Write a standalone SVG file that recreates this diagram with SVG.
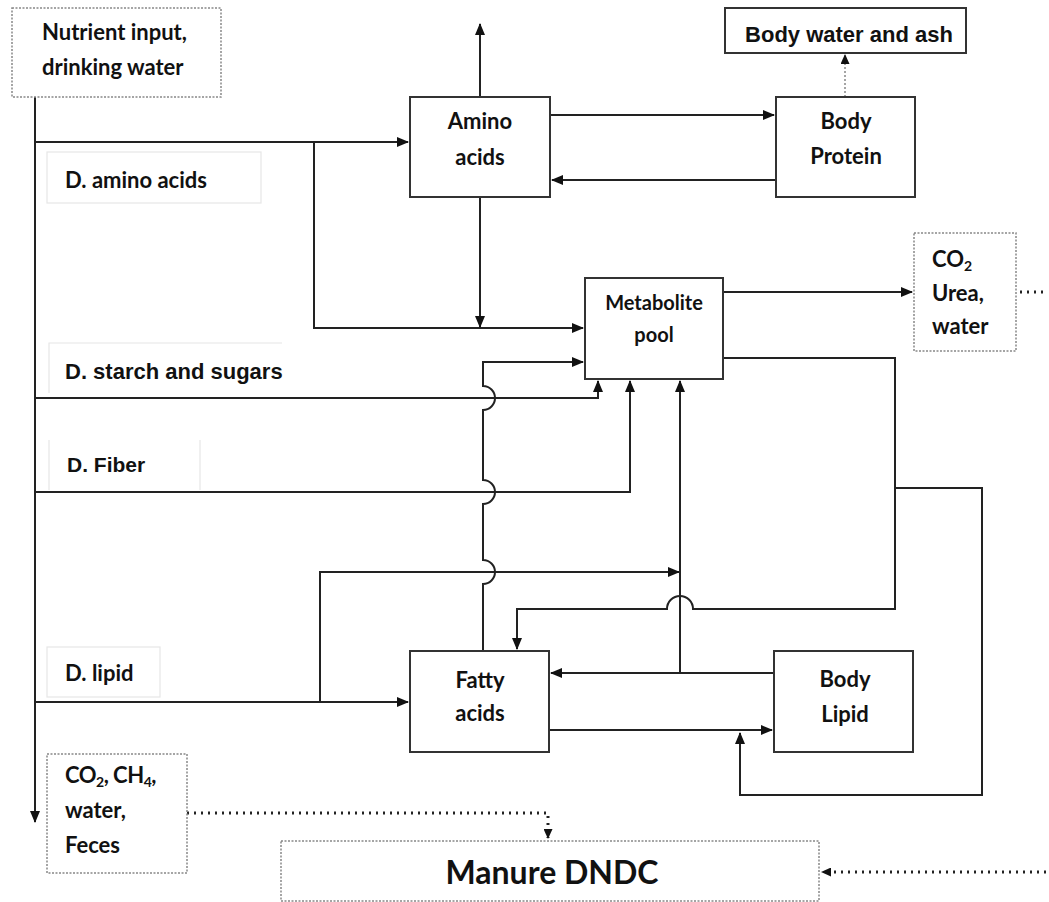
<svg xmlns="http://www.w3.org/2000/svg" width="1049" height="902" viewBox="0 0 1049 902">
<defs>
<marker id="ah" markerWidth="12" markerHeight="10" refX="11" refY="5" orient="auto" markerUnits="userSpaceOnUse">
<path d="M0,0 L12,5 L0,10 Z" fill="#111"/>
</marker>
<marker id="ahs" markerWidth="10" markerHeight="9" refX="9" refY="4.5" orient="auto" markerUnits="userSpaceOnUse">
<path d="M0,0 L10,4.5 L0,9 Z" fill="#111"/>
</marker>
<style>
.c{fill:none;stroke:#222;stroke-width:2}
.d{fill:none;stroke:#222;stroke-width:3;stroke-dasharray:2 5}
.dg{fill:none;stroke:#888;stroke-width:1.5;stroke-dasharray:2 2}
.box{fill:#fff;stroke:#333;stroke-width:2}
.dbox{fill:#fff;stroke:#888;stroke-width:1.5;stroke-dasharray:2 1.5}
.lbox{fill:#fff;stroke:#e6e6e6;stroke-width:1.2}
.t{font-family:Lato,"Liberation Sans",sans-serif;font-weight:bold;font-size:22px;fill:#111}
.a{font-family:"Liberation Sans",Arial,sans-serif;font-weight:bold;font-size:22px;fill:#111}
.m{text-anchor:middle}
.sub{font-size:14px}
</style>
</defs>
<rect width="1049" height="902" fill="#fff"/>

<g id="connectors">
<path class="c" d="M35,97 V822" marker-end="url(#ah)"/>
<path class="c" d="M35,142 H408" marker-end="url(#ah)"/>
<path class="c" d="M314,142 V328 H583" marker-end="url(#ah)"/>
<path class="c" d="M480,197 V327" marker-end="url(#ah)"/>
<path class="c" d="M480,97 V24" marker-end="url(#ah)"/>
<path class="c" d="M550,115 H774" marker-end="url(#ah)"/>
<path class="c" d="M776,180 H552" marker-end="url(#ah)"/>
<path class="dg" d="M845,97 V55" marker-end="url(#ahs)"/>
<path class="c" d="M723,292 H912" marker-end="url(#ah)"/>
<path class="d" d="M1020,292 H1046"/>
<path class="c" d="M35,398 H598 V381" marker-end="url(#ah)"/>
<path class="c" d="M35,492 H630 V381" marker-end="url(#ah)"/>
<path class="c" d="M483,651 V584 A12 12 0 0 0 483,560 V504 A12 12 0 0 0 483,480 V410 A12 12 0 0 0 483,386 V362 H583" marker-end="url(#ah)"/>
<path class="c" d="M35,702 H408" marker-end="url(#ah)"/>
<path class="c" d="M320,702 V572 H679" marker-end="url(#ah)"/>
<path class="c" d="M680,673 V381" marker-end="url(#ah)"/>
<path class="c" d="M774,673 H551" marker-end="url(#ah)"/>
<path class="c" d="M549,730 H772" marker-end="url(#ah)"/>
<path class="c" d="M723,358 H895 V609 H693 A13 13 0 0 0 667,609 H517 V649" marker-end="url(#ah)"/>
<path class="c" d="M895,488 H982 V795 H740 V733" marker-end="url(#ah)"/>
<path class="d" d="M187,813 H548 V838" marker-end="url(#ahs)"/>
<path class="d" d="M1046,872 H822" marker-end="url(#ahs)"/>
</g>

<g id="nutrient-input">
<rect class="dbox" x="12" y="8" width="209" height="89"/>
<text class="t" x="42" y="40">Nutrient input,</text>
<text class="t" x="42" y="75">drinking water</text>
</g>
<g id="d-amino-acids">
<rect class="lbox" x="47" y="152" width="214" height="51"/>
<text class="t" x="65" y="188">D. amino acids</text>
</g>
<g id="amino-acids">
<rect class="box" x="410" y="97" width="140" height="100"/>
<text class="t m" x="480" y="129">Amino</text>
<text class="t m" x="480" y="165">acids</text>
</g>
<g id="body-protein">
<rect class="box" x="776" y="97" width="139" height="100"/>
<text class="t m" x="846" y="129">Body</text>
<text class="t m" x="846" y="164">Protein</text>
</g>
<g id="body-water-ash">
<rect class="box" x="725" y="8" width="241" height="45"/>
<text class="a m" x="849" y="42">Body water and ash</text>
</g>
<g id="metabolite-pool">
<rect class="box" x="585" y="278" width="138" height="101"/>
<text class="t m" x="654" y="310" style="font-size:20px">Metabolite</text>
<text class="t m" x="654" y="342" style="font-size:20px">pool</text>
</g>
<g id="co2-urea-water">
<rect class="dbox" x="914" y="233" width="102" height="118"/>
<text class="t" x="932" y="267">CO<tspan class="sub" dy="4">2</tspan></text>
<text class="t" x="932" y="301">Urea,</text>
<text class="t" x="932" y="334">water</text>
</g>
<g id="d-starch">
<path d="M49,393 V343 H282" fill="none" stroke="#e6e6e6" stroke-width="1.2"/>
<text class="a" x="65" y="379">D. starch and sugars</text>
</g>
<g id="d-fiber">
<path d="M49,490 V440 M200,440 V490" fill="none" stroke="#e6e6e6" stroke-width="1.2"/>
<text class="a" x="67" y="472" style="font-size:21px">D. Fiber</text>
</g>
<g id="d-lipid">
<rect class="lbox" x="47" y="647" width="113" height="50"/>
<text class="t" x="65" y="681">D. lipid</text>
</g>
<g id="fatty-acids">
<rect class="box" x="410" y="651" width="139" height="101"/>
<text class="t m" x="480" y="688">Fatty</text>
<text class="t m" x="480" y="721">acids</text>
</g>
<g id="body-lipid">
<rect class="box" x="774" y="651" width="139" height="101"/>
<text class="t m" x="845" y="687">Body</text>
<text class="t m" x="845" y="722">Lipid</text>
</g>
<g id="co2-ch4-feces">
<rect class="dbox" x="47" y="754" width="140" height="119"/>
<text class="t" x="65" y="783" style="letter-spacing:-0.5px">CO<tspan class="sub" dy="4">2</tspan><tspan dy="-4">, CH</tspan><tspan class="sub" dy="4">4</tspan><tspan dy="-4">,</tspan></text>
<text class="t" x="65" y="818">water,</text>
<text class="t" x="65" y="853">Feces</text>
</g>
<g id="manure-dndc">
<rect class="dbox" x="281" y="841" width="538" height="60"/>
<text class="t m" x="552" y="884" style="font-size:32px">Manure DNDC</text>
</g>
</svg>
